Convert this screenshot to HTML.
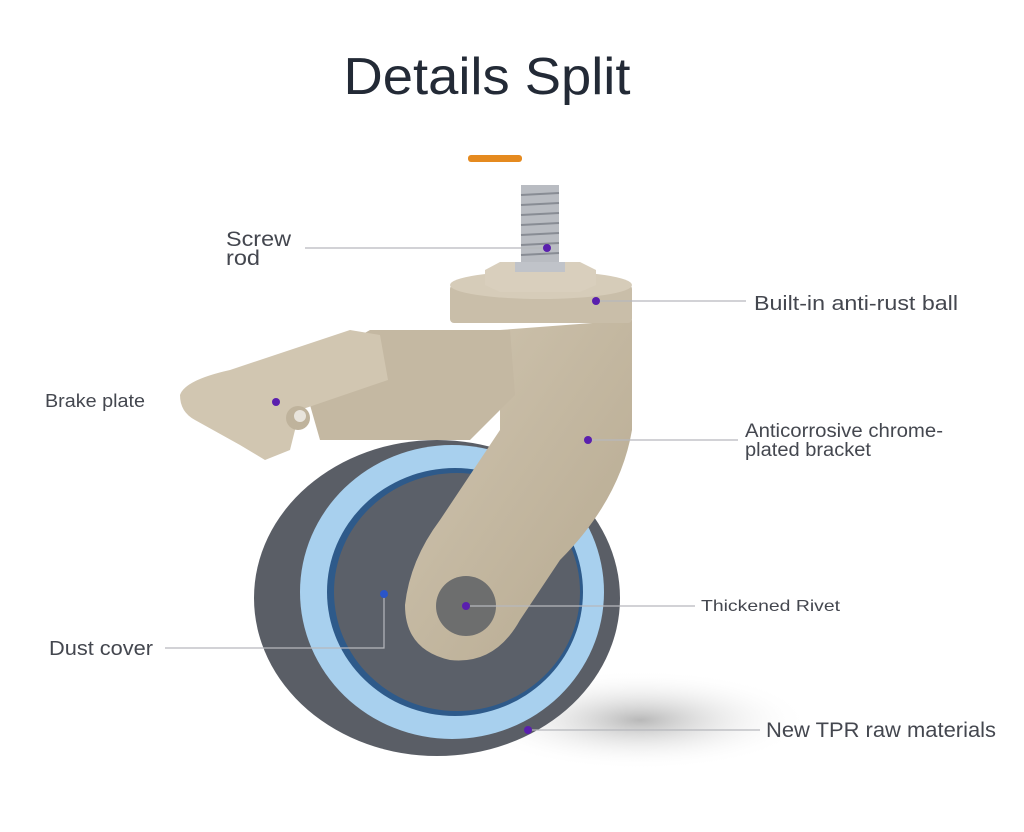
<!DOCTYPE html>
<html><head><meta charset="utf-8"><style>
html,body{margin:0;padding:0;background:#fff;}
body{width:1024px;height:832px;overflow:hidden;position:relative;font-family:"Liberation Sans",sans-serif;}
</style></head><body>
<svg width="1024" height="832" viewBox="0 0 1024 832" xmlns="http://www.w3.org/2000/svg" style="position:absolute;left:0;top:0">
<defs>
<radialGradient id="sh" cx="0.5" cy="0.5" r="0.5"><stop offset="0" stop-color="#9a9a9a" stop-opacity="0.7"/><stop offset="1" stop-color="#fff" stop-opacity="0"/></radialGradient>
<linearGradient id="br" x1="0" y1="0" x2="1" y2="1"><stop offset="0" stop-color="#d0c5b0"/><stop offset="1" stop-color="#b6a990"/></linearGradient>
</defs>
<text x="487" y="94" text-anchor="middle" font-size="52" fill="#232a36" textLength="287" lengthAdjust="spacingAndGlyphs" font-family="Liberation Sans, sans-serif">Details Split</text>
<rect x="468" y="155" width="54" height="7" rx="3" fill="#e58a1f"/>
<ellipse cx="640" cy="720" rx="170" ry="50" fill="url(#sh)"/>
<ellipse cx="437" cy="598" rx="183" ry="158" fill="#5a5e66"/>
<ellipse cx="452" cy="592" rx="152" ry="147" fill="#a8d0ee"/>
<ellipse cx="455" cy="592" rx="128" ry="124" fill="#2e5a8a"/>
<ellipse cx="457" cy="592" rx="123" ry="119" fill="#5b6069"/>
<rect x="521" y="185" width="38" height="85" fill="#b9bcc2"/>
<g stroke="#888c94" stroke-width="2">
<line x1="521" y1="195" x2="559" y2="193"/><line x1="521" y1="205" x2="559" y2="203"/><line x1="521" y1="215" x2="559" y2="213"/><line x1="521" y1="225" x2="559" y2="223"/><line x1="521" y1="235" x2="559" y2="233"/><line x1="521" y1="245" x2="559" y2="243"/><line x1="521" y1="255" x2="559" y2="253"/>
</g>
<path d="M500 330 L632 320 L632 430 Q620 500 560 560 L520 620 Q495 665 450 660 Q405 650 405 605 Q410 560 440 520 L500 430 Z" fill="url(#br)"/>
<circle cx="466" cy="606" r="30" fill="#6d6e6e"/>
<path d="M300 370 L370 330 L510 330 L515 395 L470 440 L320 440 Z" fill="#c4b8a2"/>
<path d="M180 395 Q185 380 230 370 L350 330 L380 335 L388 380 L300 410 L290 450 L265 460 L240 445 L195 420 Q180 412 180 395 Z" fill="#d1c6b1"/>
<circle cx="298" cy="418" r="12" fill="#bfb39c"/>
<circle cx="300" cy="416" r="6" fill="#e8e4dc"/>
<rect x="450" y="285" width="182" height="38" rx="4" fill="#c9bea9"/>
<ellipse cx="541" cy="285" rx="91" ry="14" fill="#d6ccb9"/>
<polygon points="485,270 500,262 580,262 596,270 596,285 580,292 500,292 485,285" fill="#d9cfbd"/>
<rect x="515" y="262" width="50" height="10" fill="#c0c3c9"/>
<g stroke="#b6b8bd" stroke-width="1.2" fill="none">
<line x1="305" y1="248" x2="547" y2="248"/>
<line x1="597" y1="301" x2="746" y2="301"/>
<line x1="588" y1="440" x2="738" y2="440"/>
<line x1="466" y1="606" x2="695" y2="606"/>
<polyline points="165,648 384,648 384,594"/>
<line x1="528" y1="730" x2="760" y2="730"/>
</g>
<g fill="#5a1fae">
<circle cx="547" cy="248" r="4"/><circle cx="596" cy="301" r="4"/><circle cx="276" cy="402" r="4"/><circle cx="588" cy="440" r="4"/><circle cx="466" cy="606" r="4"/><circle cx="528" cy="730" r="4"/>
</g>
<circle cx="384" cy="594" r="4" fill="#2a55c8"/>
<g fill="#44474f" font-family="Liberation Sans, sans-serif" lengthAdjust="spacingAndGlyphs">
<text x="226" y="246" font-size="21" textLength="65" lengthAdjust="spacingAndGlyphs">Screw</text>
<text x="226" y="265" font-size="21" textLength="34" lengthAdjust="spacingAndGlyphs">rod</text>
<text x="754" y="310" font-size="20" textLength="204" lengthAdjust="spacingAndGlyphs">Built-in anti-rust ball</text>
<text x="45" y="407" font-size="18" textLength="100" lengthAdjust="spacingAndGlyphs">Brake plate</text>
<text x="745" y="437" font-size="19" textLength="198" lengthAdjust="spacingAndGlyphs">Anticorrosive chrome-</text>
<text x="745" y="456" font-size="19" textLength="126" lengthAdjust="spacingAndGlyphs">plated bracket</text>
<text x="701" y="611" font-size="16" textLength="139" lengthAdjust="spacingAndGlyphs">Thickened Rivet</text>
<text x="49" y="655" font-size="20" textLength="104" lengthAdjust="spacingAndGlyphs">Dust cover</text>
<text x="766" y="737" font-size="21" textLength="230" lengthAdjust="spacingAndGlyphs">New TPR raw materials</text>
</g>
</svg>
</body></html>
